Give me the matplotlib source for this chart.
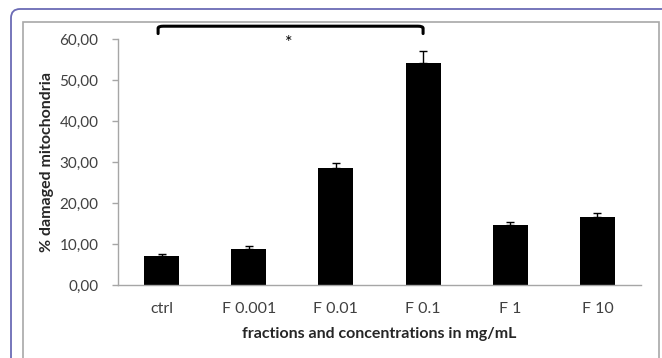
import matplotlib
matplotlib.use("Agg")
import matplotlib.pyplot as plt
from matplotlib.patches import FancyBboxPatch, Rectangle
from matplotlib.path import Path
from matplotlib.patches import PathPatch
import numpy as np

categories = ["ctrl", "F 0.001", "F 0.01", "F 0.1", "F 1", "F 10"]
values = [7.2, 8.9, 28.6, 54.3, 14.7, 16.5]
errors = [0.4, 0.7, 1.3, 2.8, 0.6, 1.0]
yticks = [0, 10, 20, 30, 40, 50, 60]
ytick_labels = ["0,00", "10,00", "20,00", "30,00", "40,00", "50,00", "60,00"]
xlabel = "fractions and concentrations in mg/mL"
ylabel = "% damaged mitochondria"
sig_pair = (0, 3)
sig_label = "*"

plt.rcParams['font.family'] = ['Lato', 'DejaVu Sans']

W, H = 662, 358
fig = plt.figure(figsize=(W / 100, H / 100), dpi=100)

# outer frames (pixel coordinates)
outer = FancyBboxPatch((11, -30), 700, H - 9 + 30, boxstyle="round,pad=0,rounding_size=9",
                       transform=None, fill=False, edgecolor="#6b6bb5", linewidth=1.3)
fig.patches.append(outer)
inner = Rectangle((22.5, -10), 659 - 22.5, H - 21.5 + 10, transform=None, fill=False,
                  edgecolor="#a8a8a8", linewidth=1.2)
fig.patches.append(inner)

ax = fig.add_axes([118 / W, 1 - 285 / H, (641 - 118) / W, (285 - 39.3) / H])
x = np.arange(len(categories))
ax.bar(x, values, width=0.4, color="black", zorder=2)
ax.errorbar(x, values, yerr=[np.zeros(len(errors)), errors], fmt="none",
            ecolor="black", elinewidth=1, capsize=3, capthick=1, zorder=3)

ax.set_xlim(-0.5, len(categories) - 0.5)
ax.set_ylim(0, 60)
ax.set_yticks(yticks)
ax.set_yticklabels(ytick_labels, fontsize=11, color="#404040")
ax.set_xticks(x)
ax.set_xticklabels(categories, fontsize=11.5, color="#404040")
ax.tick_params(axis="x", length=0, pad=12)
ax.tick_params(axis="y", length=4, width=1, color="#a6a6a6", pad=10)
for s in ["top", "right"]:
    ax.spines[s].set_visible(False)
for s in ["left", "bottom"]:
    ax.spines[s].set_color("#a6a6a6")
    ax.spines[s].set_linewidth(1)

ax.set_xlabel(xlabel, fontsize=11.5, fontweight="bold", color="#262626", labelpad=8)
ax.set_ylabel(ylabel, fontsize=11.5, fontweight="bold", color="#262626", labelpad=4)

# significance bracket
x0, x1 = sig_pair[0] - 0.04, sig_pair[1]
ytop, yend = 63.2, 61.4
r = 0.06
verts = [(x0, yend), (x0, ytop - 0.5), (x0, ytop), (x0 + r, ytop),
         (x1 - r, ytop), (x1, ytop), (x1, ytop - 0.5), (x1, yend)]
codes = [Path.MOVETO, Path.LINETO, Path.CURVE3, Path.CURVE3,
         Path.LINETO, Path.CURVE3, Path.CURVE3, Path.LINETO]
ax.add_patch(PathPatch(Path(verts, codes), fill=False, edgecolor="black",
                       linewidth=2.2, clip_on=False, capstyle="round", joinstyle="round"))
ax.text((sig_pair[0] + sig_pair[1]) / 2 - 0.04, 59.2, sig_label, ha="center", va="center",
        fontsize=13, color="black")

fig.savefig("out.png", dpi=100)
